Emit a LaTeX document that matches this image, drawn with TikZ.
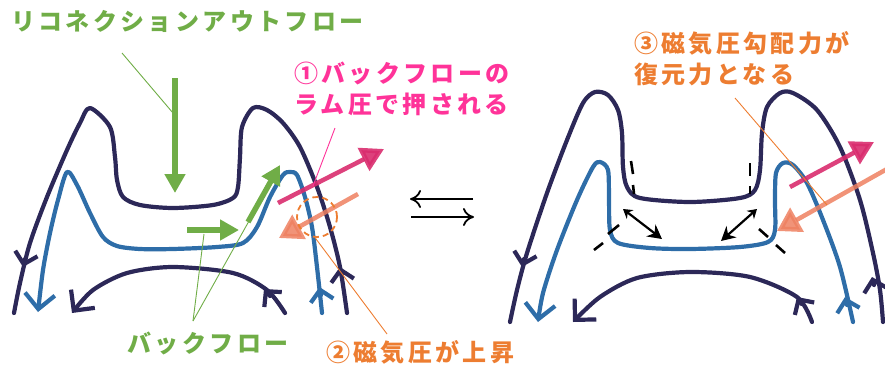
\documentclass[tikz,border=0pt]{standalone}
\usepackage{fontspec}
\newfontfamily\jp{Noto Sans CJK JP}[LetterSpace=14]
\usetikzlibrary{arrows.meta,calc}

\definecolor{fieldnavy}{HTML}{2C2858}
\definecolor{fieldblue}{HTML}{2E6DA8}
\definecolor{flowgreen}{HTML}{70AD47}
\definecolor{rampink}{HTML}{D92C6E}
\definecolor{textpink}{HTML}{FF3399}
\definecolor{backsalmon}{HTML}{EE8060}
\definecolor{magorange}{HTML}{ED7D31}

\begin{document}
\begin{tikzpicture}[x=1pt, y=-1pt,
    lbl/.style={font=\jp\bfseries\fontsize{24}{31}\selectfont, inner sep=0pt},
    field/.style={line width=4.2pt, line cap=round, line join=round},
    navyline/.style={field, draw=fieldnavy},
    blueline/.style={field, draw=fieldblue},
    endbarb/.style={-{Straight Barb[length=15pt,width=30pt]}},
    midbarb/.style={-{Straight Barb[length=11pt,width=23pt]}},
    greenarrow/.style={draw=flowgreen, line width=5.5pt, -{Triangle[length=19pt,width=20pt]}},
    pusharrow/.style={draw=rampink, line width=4.5pt, opacity=0.9, -{Triangle[length=23pt,width=25pt]}},
    backarrow/.style={draw=backsalmon, line width=4.5pt, opacity=0.85, -{Triangle[length=23pt,width=27pt]}},
    leader/.style={line width=0.9pt},
    forcearrow/.style={line width=2.2pt, {Stealth[length=9pt,width=11pt]}-{Stealth[length=14pt,width=15pt]}},
    guide/.style={line width=2.6pt}
]
    \useasboundingbox (0,0) rectangle (885,372);

    % ---- left: field lines during outflow ----
    \draw[navyline] plot[smooth] coordinates {
        (347,313) (340,267) (330,227) (317,187) (300,147) (283,123) (267,110)
        (253,108) (242,127) (240,157) (238,187) (233,198) (213,205) (173,208)
        (140,205) (123,197) (117,180) (115,157) (110,127) (90,108) (80,123)
        (67,150) (47,197) (30,243) (20,283) (14,313)};
    \draw[blueline, endbarb] plot[smooth] coordinates {
        (322,313) (317,267) (312,227) (305,197) (297,175) (290,172) (283,175)
        (270,197) (257,227) (243,243) (217,247) (173,249) (140,249) (117,246)
        (103,237) (90,213) (77,185) (67,172) (58,200) (50,233) (43,270) (38,312)};
    \draw[navyline, endbarb] plot[smooth] coordinates {
        (285,313) (267,290) (233,273) (173,267) (127,273) (93,290) (72,313)};
    % direction marks on the field lines
    \draw[navyline, midbarb] (341.5,275) -- (340,267);
    \draw[navyline, midbarb] (25,259) -- (23,267);
    \draw[blueline, midbarb] (321,295) -- (319.5,287);
    \draw[navyline, midbarb] (270,296) -- (264,289);

    % outflow and back flow
    \draw[greenarrow] (175,78) -- (175,193);
    \draw[greenarrow] (187,230) -- (239,230);
    \draw[greenarrow] (248,222) -- (280,165);

    % ram pressure and magnetic pressure
    \draw[pusharrow] (278,203) -- (384,149);
    \draw[backarrow] (358,194) -- (279,238);
    \node[draw=magorange, circle, line width=1.8pt, dash pattern=on 6pt off 4pt,
          minimum size=40pt, inner sep=0pt] (hot) at (317,217) {};

    % labels
    \node[lbl, anchor=west, text=flowgreen] (outflow) at (11,21) {リコネクションアウトフロー};
    \node[lbl, text=flowgreen] (back) at (208,343) {バックフロー};
    \node[lbl, anchor=north west, align=left, text=textpink] (ram) at (294,62)
        {①バックフローの\\ラム圧で押される};
    \node[lbl, anchor=west, text=magorange] (rise) at (326,352) {②磁気圧が上昇};

    \coordinate (outflowfoot) at (122,53);
    \coordinate (backfoot) at (193,321);
    \coordinate (ramfoot) at (335,128);
    \coordinate (risefoot) at (387,334);
    \draw[leader, flowgreen] (outflowfoot) -- (173,113);
    \draw[leader, flowgreen] (backfoot) -- (204,234);
    \draw[leader, flowgreen] (backfoot) -- (249,221);
    \draw[leader, textpink] (ramfoot) -- (313,186);
    \draw[leader, magorange] (risefoot) -- (hot.-95);

    % ---- middle: back and forth ----
    \draw[line width=1.8pt, -{To[length=11pt,width=18pt]}] (473,199) -- (410,199);
    \draw[line width=1.8pt, -{To[length=11pt,width=18pt]}] (411,217) -- (474,217);

    % ---- right: restoring field ----
    \draw[navyline] plot[smooth] coordinates {
        (883,322) (880,290) (873,253) (860,200) (840,147) (817,110) (793,93)
        (780,93) (767,107) (762,133) (760,170) (755,190) (740,198) (690,202)
        (640,198) (627,187) (623,167) (622,133) (618,110) (608,95) (595,92)
        (583,103) (567,140) (547,193) (527,253) (517,290) (510,322)};
    \draw[blueline, endbarb] plot[smooth] coordinates {
        (853,322) (840,267) (823,220) (807,183) (793,165) (783,163) (776,173)
        (775,200) (775,230) (768,242) (740,247) (690,249) (650,248) (618,243)
        (610,230) (609,200) (608,170) (600,162) (593,167) (577,200) (557,250)
        (543,293) (538,322)};
    \draw[navyline, endbarb] plot[smooth] coordinates {
        (812,322) (797,297) (750,277) (690,272) (637,278) (600,297) (573,322)};
    \draw[navyline, midbarb] (874,285) -- (872,277);
    \draw[navyline, midbarb] (524,259) -- (522,267);
    \draw[blueline, midbarb] (847,305) -- (845,297);
    \draw[navyline, midbarb] (801.5,304) -- (797,297);

    % guide dashes and pressure gradient force
    \draw[guide] (631,161) -- (633,174) (633,185) -- (634,194);
    \draw[guide] (750,163) -- (750,176) (750,186) -- (750,194);
    \draw[guide] (619,225) -- (608,234) (603,243) -- (594,250);
    \draw[guide] (759,229) -- (768,237) (776,245) -- (785,253);
    \draw[forcearrow] (623,209) -- (662,239);
    \draw[forcearrow] (757,209) -- (721,241);

    \draw[pusharrow] (790,187) -- (874,142);
    \draw[backarrow] (887,169) -- (777,231);

    \node[lbl, anchor=north west, align=left, text=magorange] (restore) at (634,31)
        {③磁気圧勾配力が\\復元力となる};
    \coordinate (restorefoot) at (735,98);
    \draw[leader, magorange] (restorefoot) -- (827,205);
\end{tikzpicture}
\end{document}
